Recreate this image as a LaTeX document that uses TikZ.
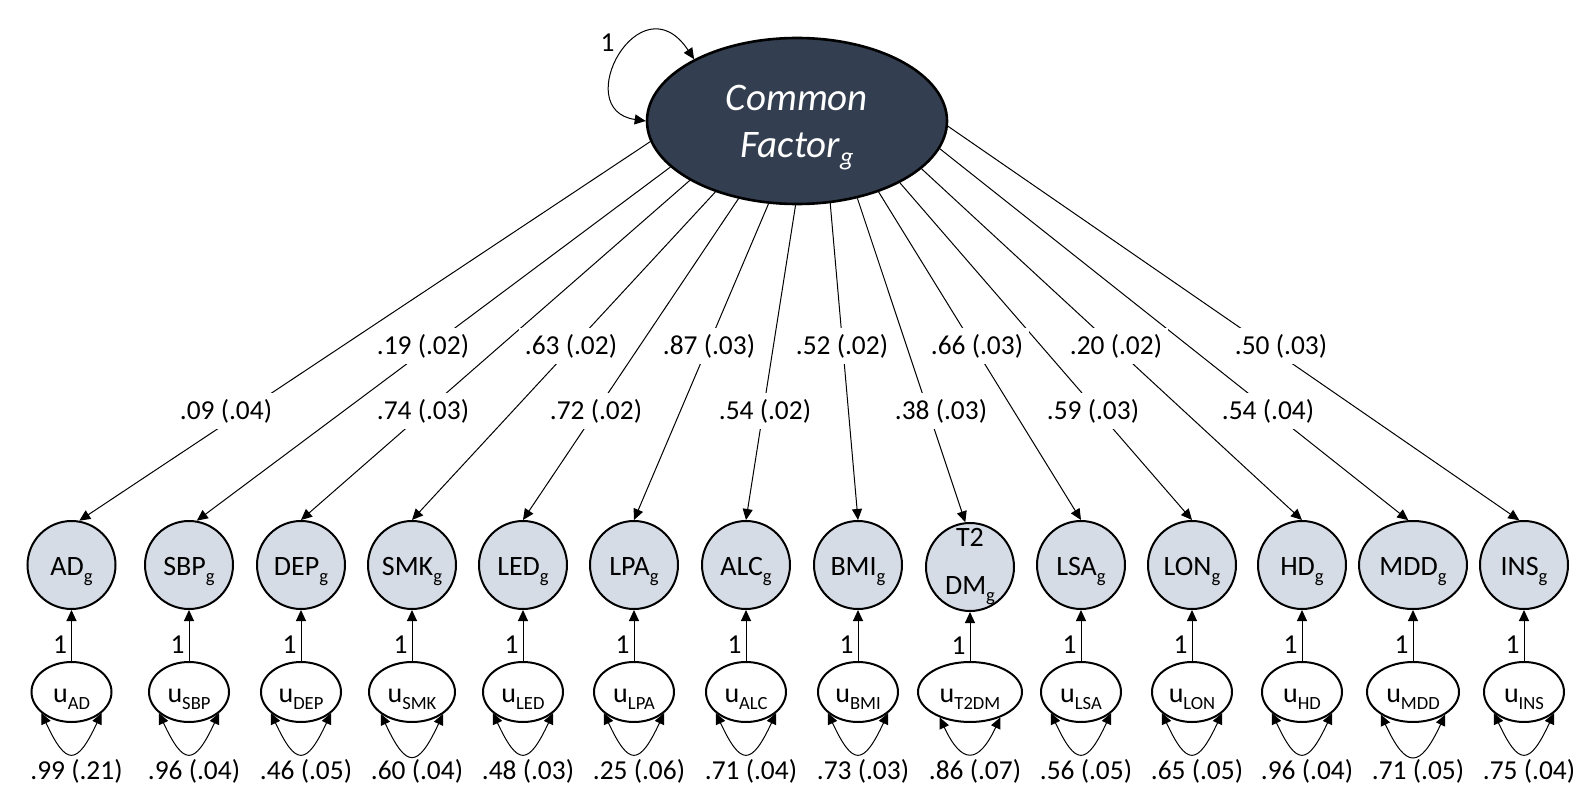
\documentclass[tikz,border=0pt]{standalone}
\usepackage{fontspec}
\setmainfont{Carlito}
\usetikzlibrary{shapes.geometric,arrows.meta}
\newcommand{\p}{0.5pt}
\newcommand{\sub}[1]{\raisebox{-0.25em}{\fontsize{9.3}{10}\selectfont #1}}
\definecolor{factorblue}{HTML}{333F50}
\definecolor{traitgrey}{HTML}{D6DCE5}

\begin{document}
\begin{tikzpicture}[x=\p, y=-\p,
    gen/.style={draw, ellipse, fill=factorblue, line width=1.3pt, minimum width=300*\p, minimum height=166*\p, inner sep=0pt, text=white, align=center, text depth=0pt, font=\fontsize{19.5}{23.5}\selectfont\itshape},
    trait/.style={draw, ellipse, fill=traitgrey, line width=1pt, minimum width=88*\p, minimum height=88*\p, inner sep=0pt, align=center, text height=10pt, text depth=0pt, font=\fontsize{14}{24}\selectfont},
    uniq/.style={draw, ellipse, fill=white, line width=1pt, minimum width=80*\p, minimum height=60*\p, inner sep=0pt, text height=10pt, text depth=0pt, font=\fontsize{14}{16}\selectfont},
    est/.style={fill=white, inner sep=3pt, font=\fontsize{13.7}{16}\selectfont},
    one/.style={font=\fontsize{13.7}{16}\selectfont},
    load/.style={-{Triangle[length=5.5pt,width=5pt]}, line width=0.5pt},
    varloop/.style={{Triangle[length=5.5pt,width=5pt]}-{Triangle[length=5.5pt,width=5pt]}, line width=0.5pt}]
    \useasboundingbox (0,0) rectangle (1592,808);

    % Common factor
    \node[gen] (cf) at (797,121) {Common\\Factor\raisebox{-4pt}{\fontsize{13}{13}\selectfont g}};
    \draw[varloop] (cf.149) .. controls +(-54,-81) and +(-77,-11) .. (cf.180) node[one, pos=0.4, left=5pt] {1};

    % Genetic factors
    \node[trait] (AD) at (71.5,565) {AD\sub{g}};
    \node[trait] (SBP) at (189,565) {SBP\sub{g}};
    \node[trait] (DEP) at (301,565) {DEP\sub{g}};
    \node[trait] (SMK) at (412,565) {SMK\sub{g}};
    \node[trait] (LED) at (523,565) {LED\sub{g}};
    \node[trait] (LPA) at (634,565) {LPA\sub{g}};
    \node[trait] (ALC) at (746,565) {ALC\sub{g}};
    \node[trait] (BMI) at (858,565) {BMI\sub{g}};
    \node[trait, text height=, text depth=, inner ysep=-10pt] (T2DM) at (970,567) {T2\\DM\sub{g}};
    \node[trait] (LSA) at (1081,565) {LSA\sub{g}};
    \node[trait] (LON) at (1192,565) {LON\sub{g}};
    \node[trait] (HD) at (1302,565) {HD\sub{g}};
    \node[trait, minimum width=108*\p] (MDD) at (1413,565) {MDD\sub{g}};
    \node[trait] (INS) at (1524,565) {INS\sub{g}};

    % Residuals
    \node[uniq] (uAD) at (71.5,692) {u\sub{AD}};
    \node[uniq] (uSBP) at (189,692) {u\sub{SBP}};
    \node[uniq] (uDEP) at (301,692) {u\sub{DEP}};
    \node[uniq, minimum width=86*\p] (uSMK) at (412,692) {u\sub{SMK}};
    \node[uniq] (uLED) at (523,692) {u\sub{LED}};
    \node[uniq] (uLPA) at (634,692) {u\sub{LPA}};
    \node[uniq] (uALC) at (746,692) {u\sub{ALC}};
    \node[uniq] (uBMI) at (858,692) {u\sub{BMI}};
    \node[uniq, minimum width=104*\p] (uT2DM) at (970,692) {u\sub{T2DM}};
    \node[uniq] (uLSA) at (1081,692) {u\sub{LSA}};
    \node[uniq] (uLON) at (1192,692) {u\sub{LON}};
    \node[uniq] (uHD) at (1302,692) {u\sub{HD}};
    \node[uniq, minimum width=92*\p] (uMDD) at (1413,692) {u\sub{MDD}};
    \node[uniq] (uINS) at (1524,692) {u\sub{INS}};

    % Loadings
    \draw[load] (cf.188) -- (AD.80);
    \draw[load] (cf.200) -- (SBP.80);
    \draw[load] (cf.209) -- (DEP.north);
    \draw[load] (cf.221) -- (SMK.north);
    \draw[load] (cf.233) -- (LED.north);
    \draw[load] (cf.251) -- (LPA.north);
    \draw[load] (cf.269) -- (ALC.north);
    \draw[load] (cf.292) -- (BMI.north);
    \draw[load] (cf.308) -- (T2DM.96);
    \draw[load] (cf.319) -- (LSA.north);
    \draw[load] (cf.329) -- (LON.north);
    \draw[load] (cf.339) -- (HD.north);
    \draw[load] (cf.349) -- (MDD.96);
    \draw[load] (cf.358) -- (INS.96);

    % Loading estimates
    \node[est] (lAD) at (226,411) {.09 (.04)};
    \node[est] (lSBP) at (423,346) {.19 (.02)};
    \node[est] (lDEP) at (423,411) {.74 (.03)};
    \node[est] (lSMK) at (571,346) {.63 (.02)};
    \node[est] (lLED) at (596,411) {.72 (.02)};
    \node[est] (lLPA) at (709,346) {.87 (.03)};
    \node[est] (lALC) at (765,411) {.54 (.02)};
    \node[est] (lBMI) at (842,346) {.52 (.02)};
    \node[est] (lT2DM) at (941,411) {.38 (.03)};
    \node[est] (lLSA) at (977,346) {.66 (.03)};
    \node[est] (lLON) at (1093,411) {.59 (.03)};
    \node[est] (lHD) at (1116,346) {.20 (.02)};
    \node[est] (lMDD) at (1268,411) {.54 (.04)};
    \node[est] (lINS) at (1281,346) {.50 (.03)};

    % Residual paths
    \draw[load] (uAD) -- (AD) node[one, pos=0.32, left, inner sep=2pt] {1};
    \draw[load] (uSBP) -- (SBP) node[one, pos=0.32, left, inner sep=2pt] {1};
    \draw[load] (uDEP) -- (DEP) node[one, pos=0.32, left, inner sep=2pt] {1};
    \draw[load] (uSMK) -- (SMK) node[one, pos=0.32, left, inner sep=2pt] {1};
    \draw[load] (uLED) -- (LED) node[one, pos=0.32, left, inner sep=2pt] {1};
    \draw[load] (uLPA) -- (LPA) node[one, pos=0.32, left, inner sep=2pt] {1};
    \draw[load] (uALC) -- (ALC) node[one, pos=0.32, left, inner sep=2pt] {1};
    \draw[load] (uBMI) -- (BMI) node[one, pos=0.32, left, inner sep=2pt] {1};
    \draw[load] (uT2DM) -- (T2DM) node[one, pos=0.32, left, inner sep=2pt] {1};
    \draw[load] (uLSA) -- (LSA) node[one, pos=0.32, left, inner sep=2pt] {1};
    \draw[load] (uLON) -- (LON) node[one, pos=0.32, left, inner sep=2pt] {1};
    \draw[load] (uHD) -- (HD) node[one, pos=0.32, left, inner sep=2pt] {1};
    \draw[load] (uMDD) -- (MDD) node[one, pos=0.32, left, inner sep=2pt] {1};
    \draw[load] (uINS) -- (INS) node[one, pos=0.32, left, inner sep=2pt] {1};

    % Residual variances
    \draw[varloop] (uAD.-145) to[out=-65, in=-115, looseness=2.5] (uAD.-35);
    \draw[varloop] (uSBP.-145) to[out=-65, in=-115, looseness=2.5] (uSBP.-35);
    \draw[varloop] (uDEP.-145) to[out=-65, in=-115, looseness=2.5] (uDEP.-35);
    \draw[varloop] (uSMK.-145) to[out=-65, in=-115, looseness=2.5] (uSMK.-35);
    \draw[varloop] (uLED.-145) to[out=-65, in=-115, looseness=2.5] (uLED.-35);
    \draw[varloop] (uLPA.-145) to[out=-65, in=-115, looseness=2.5] (uLPA.-35);
    \draw[varloop] (uALC.-145) to[out=-65, in=-115, looseness=2.5] (uALC.-35);
    \draw[varloop] (uBMI.-145) to[out=-65, in=-115, looseness=2.5] (uBMI.-35);
    \draw[varloop] (uT2DM.-140) to[out=-65, in=-115, looseness=2.2] (uT2DM.-40);
    \draw[varloop] (uLSA.-145) to[out=-65, in=-115, looseness=2.5] (uLSA.-35);
    \draw[varloop] (uLON.-145) to[out=-65, in=-115, looseness=2.5] (uLON.-35);
    \draw[varloop] (uHD.-145) to[out=-65, in=-115, looseness=2.5] (uHD.-35);
    \draw[varloop] (uMDD.-145) to[out=-65, in=-115, looseness=2.4] (uMDD.-35);
    \draw[varloop] (uINS.-145) to[out=-65, in=-115, looseness=2.5] (uINS.-35);

    \node[one] (vAD) at (76.5,771) {.99 (.21)};
    \node[one] (vSBP) at (194,771) {.96 (.04)};
    \node[one] (vDEP) at (306,771) {.46 (.05)};
    \node[one] (vSMK) at (417,771) {.60 (.04)};
    \node[one] (vLED) at (528,771) {.48 (.03)};
    \node[one] (vLPA) at (639,771) {.25 (.06)};
    \node[one] (vALC) at (751,771) {.71 (.04)};
    \node[one] (vBMI) at (863,771) {.73 (.03)};
    \node[one] (vT2DM) at (975,771) {.86 (.07)};
    \node[one] (vLSA) at (1086,771) {.56 (.05)};
    \node[one] (vLON) at (1197,771) {.65 (.05)};
    \node[one] (vHD) at (1307,771) {.96 (.04)};
    \node[one] (vMDD) at (1418,771) {.71 (.05)};
    \node[one] (vINS) at (1529,771) {.75 (.04)};

\end{tikzpicture}
\end{document}
